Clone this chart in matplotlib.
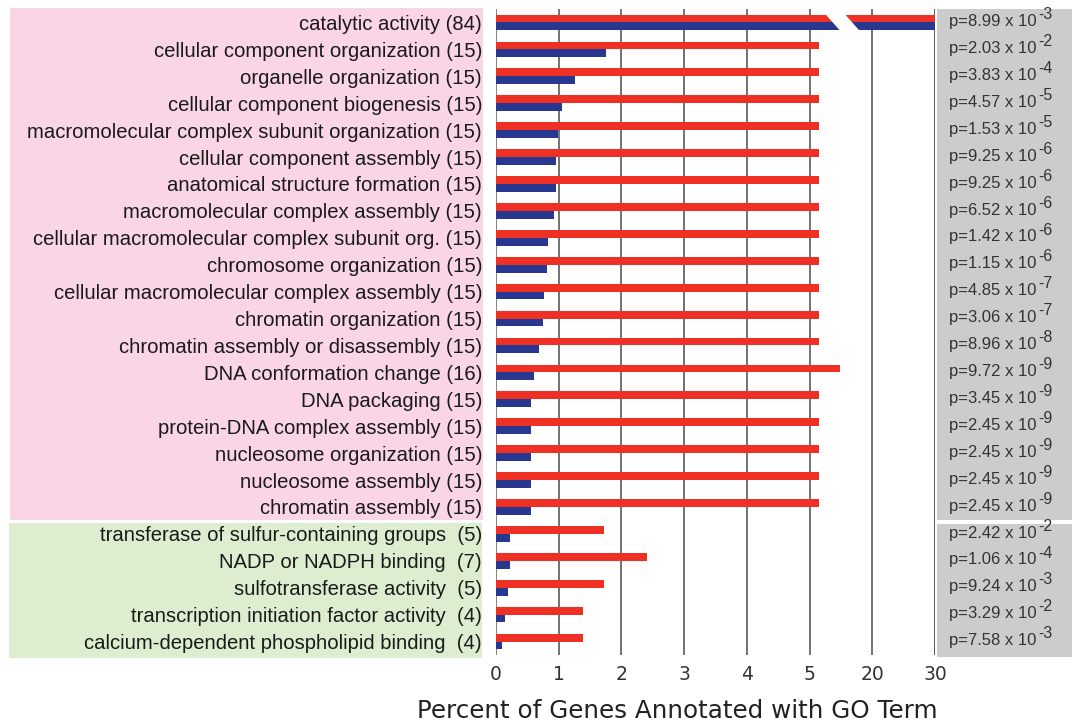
import matplotlib
matplotlib.use("Agg")
import matplotlib.pyplot as plt
from matplotlib.patches import Rectangle
from matplotlib.transforms import blended_transform_factory
import numpy as np

# GO terms (with gene counts) and the two series, in percent
terms = [
    "catalytic activity (84)",
    "cellular component organization (15)",
    "organelle organization (15)",
    "cellular component biogenesis (15)",
    "macromolecular complex subunit organization (15)",
    "cellular component assembly (15)",
    "anatomical structure formation (15)",
    "macromolecular complex assembly (15)",
    "cellular macromolecular complex subunit org. (15)",
    "chromosome organization (15)",
    "cellular macromolecular complex assembly (15)",
    "chromatin organization (15)",
    "chromatin assembly or disassembly (15)",
    "DNA conformation change (16)",
    "DNA packaging (15)",
    "protein-DNA complex assembly (15)",
    "nucleosome organization (15)",
    "nucleosome assembly (15)",
    "chromatin assembly (15)",
    "transferase of sulfur-containing groups  (5)",
    "NADP or NADPH binding  (7)",
    "sulfotransferase activity  (5)",
    "transcription initiation factor activity  (4)",
    "calcium-dependent phospholipid binding  (4)",
]
red_vals = [30.0, 5.15, 5.15, 5.15, 5.15, 5.15, 5.15, 5.15, 5.15, 5.15, 5.15, 5.15,
            5.15, 5.49, 5.15, 5.15, 5.15, 5.15, 5.15, 1.72, 2.41, 1.72, 1.38, 1.38]
blue_vals = [30.0, 1.75, 1.26, 1.06, 0.99, 0.96, 0.96, 0.92, 0.83, 0.82, 0.77, 0.75,
             0.69, 0.61, 0.56, 0.56, 0.56, 0.56, 0.56, 0.22, 0.22, 0.19, 0.14, 0.10]
p_mant = ["8.99", "2.03", "3.83", "4.57", "1.53", "9.25", "9.25", "6.52", "1.42", "1.15",
          "4.85", "3.06", "8.96", "9.72", "3.45", "2.45", "2.45", "2.45", "2.45",
          "2.42", "1.06", "9.24", "3.29", "7.58"]
p_exp = [-3, -2, -4, -5, -5, -6, -6, -6, -6, -6, -7, -7, -8, -9, -9, -9, -9, -9, -9,
         -2, -4, -3, -2, -3]
xticks = [0, 1, 2, 3, 4, 5, 20, 30]

RED = "#ee3124"
BLUE = "#283891"
W, H = 1072, 724


# broken axis: linear up to 5.6, then 20 and 30 squeezed into one unit each
def fwd(x):
    x = np.asarray(x, dtype=float)
    return np.where(x <= 5.6, x,
                    np.where(x <= 20, 5.6 + (x - 5.6) * 0.4 / 14.4, 6 + (x - 20) / 10))


def inv(y):
    y = np.asarray(y, dtype=float)
    return np.where(y <= 5.6, y,
                    np.where(y <= 6, 5.6 + (y - 5.6) * 14.4 / 0.4, 20 + (y - 6) * 10))


def px_rect(x0, y0, x1, y1, color):
    # rectangle given in figure pixels (top-left origin)
    return Rectangle((x0 / W, 1 - y1 / H), (x1 - x0) / W, (y1 - y0) / H,
                     transform=fig.transFigure, color=color, zorder=-1, lw=0)


fig = plt.figure(figsize=(W / 100, H / 100), dpi=100)
ax = fig.add_axes([496 / W, 1 - 655 / H, 439 / W, 646 / H])
ax.patch.set_alpha(0)

fig.patches.append(px_rect(10, 8, 483, 519.5, "#f9d5e6"))
fig.patches.append(px_rect(9, 523, 482, 658, "#dcedd0"))
fig.patches.append(px_rect(937, 9, W, 520, "#cccccc"))
fig.patches.append(px_rect(937, 524, W, 657, "#cccccc"))

ax.set_xscale('function', functions=(fwd, inv))
y = np.arange(len(terms))
bh = 0.29
ax.barh(y - bh / 2, red_vals, height=bh, color=RED, zorder=3)
ax.barh(y + bh / 2, blue_vals, height=bh, color=BLUE, zorder=3)

# white slash through the catalytic activity bars
top, bot = -bh - 0.05, bh + 0.05
gx = inv(np.array([5.24, 5.55, 5.81, 5.50]))
ax.fill(gx, [top, top, bot, bot], color="white", zorder=4, lw=0)

ax.set_xlim(0, 30)
ax.set_ylim(23.5, -0.5)
ax.set_xticks(xticks)
ax.set_xticklabels([str(t) for t in xticks])
ax.grid(axis='x', color="#5a5a5a", lw=1.2, zorder=1)
ax.set_axisbelow(True)
for s in ax.spines.values():
    s.set_visible(False)
ax.axvline(0, color="#8a8a8a", lw=1.2, zorder=2)
ax.axvline(30, color="#5a5a5a", lw=1.2, zorder=2)
ax.tick_params(axis='x', length=0, pad=7, labelsize=13.5, labelcolor="#333333")
ax.set_yticks(y)
ax.set_yticklabels(terms, family='Liberation Sans', fontsize=14.6, color="#1a1a1a")
ax.tick_params(axis='y', length=0, pad=10)

fig.text(677 / W, 1 - 711 / H, "Percent of Genes Annotated with GO Term", fontsize=17.7,
         color="#222222", ha='center', va='center')

# p-values with a raised exponent
tr = blended_transform_factory(fig.transFigure, ax.transData)
for i, (m, e) in enumerate(zip(p_mant, p_exp)):
    t = ax.text(949 / W, i - 0.03, f"p={m} x 10", transform=tr, ha='left', va='center',
                family='Liberation Sans', fontsize=12, color="#333333", clip_on=False)
    ax.annotate(f"{e}", xy=(1, 0), xycoords=t, xytext=(1.5, 5.0),
                textcoords='offset points', ha='left', va='bottom',
                family='Liberation Sans', fontsize=11.5, color="#333333",
                annotation_clip=False)

fig.savefig("out.png", dpi=100)
